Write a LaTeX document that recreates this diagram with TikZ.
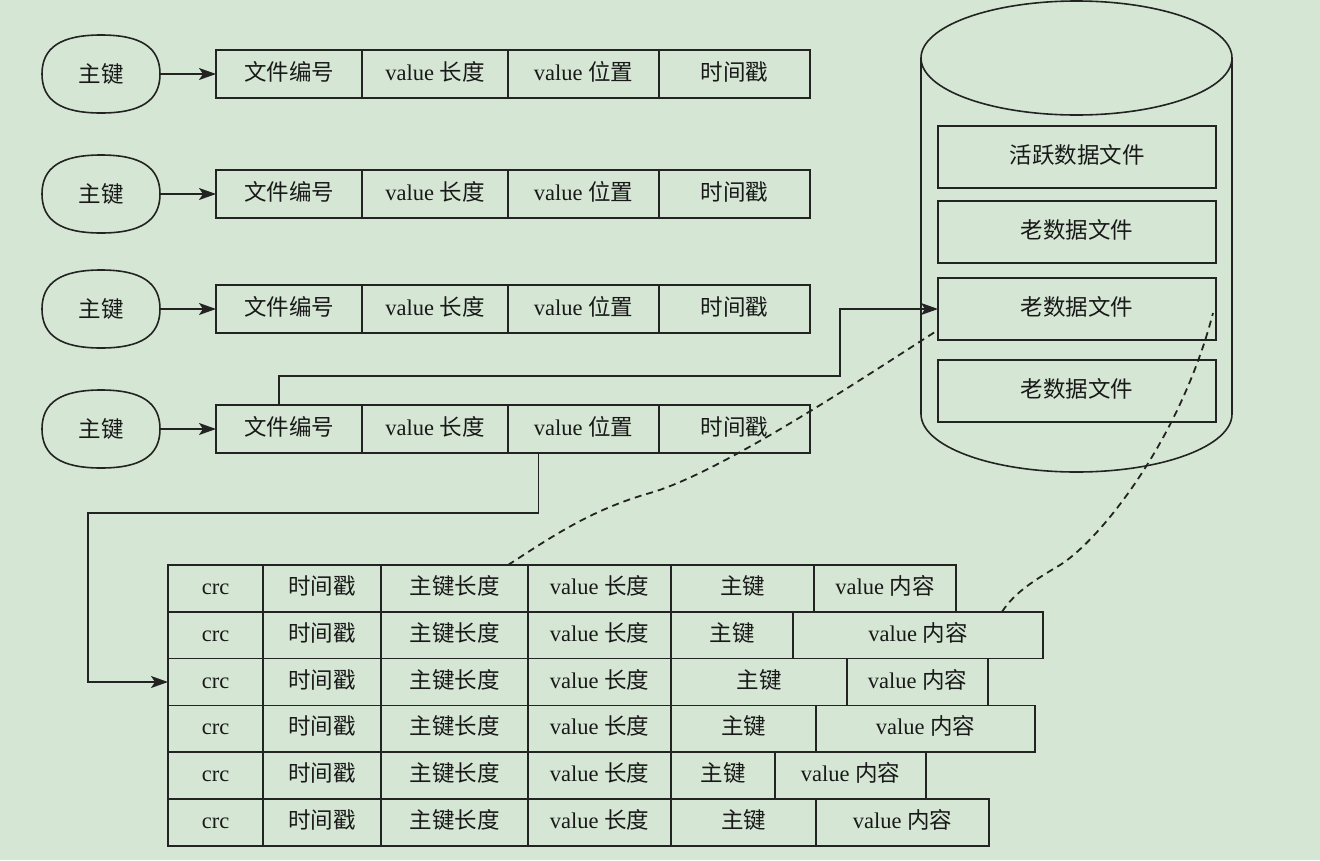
\documentclass[tikz,border=0pt]{standalone}
\usepackage{fontspec}
\setmainfont{Liberation Serif}
\newfontfamily\cjk{Noto Sans CJK SC}
\usetikzlibrary{shapes.geometric,arrows.meta,calc}
\newcommand\zh[1]{{\cjk #1}}
\definecolor{bgc}{RGB}{213,231,212}
\definecolor{linec}{RGB}{35,35,35}
\tikzset{
  cell/.style={draw=linec, line width=1.6pt, inner sep=0pt, outer sep=0pt, anchor=west,
    font=\fontsize{22.5}{26}\selectfont, text=black!90, text height=16pt, text depth=4pt},
  reccell/.style={cell, minimum height=48pt},
  tabcell/.style={cell, minimum height=46.8pt},
  dbbox/.style={cell, anchor=center, minimum width=278pt, minimum height=62pt},
  keyell/.style={rectangle, minimum width=118pt, minimum height=78pt, outer sep=0pt,
    inner sep=0pt, font=\fontsize{22.5}{26}\selectfont, text=black!90},
  keyline/.style={draw=linec, line width=1.6pt},
  arr/.style={draw=linec, line width=1.6pt, -{Stealth[length=17pt,width=12pt,inset=4pt]}},
  dsh/.style={draw=linec, line width=1.8pt, dash pattern=on 7pt off 5pt}
}
\begin{document}
\begin{tikzpicture}[x=1pt,y=-1pt]
\useasboundingbox (0,0) rectangle (1320,860);
\fill[bgc] (0,0) rectangle (1320,860);

% index records
\foreach \i/\y in {1/74,2/194,3/309,4/429}{
  \node[keyell] (k\i) at (101,\y) {\zh{主键}};
  \draw[keyline] (k\i.north)
    .. controls ($(k\i.north)!0.68!(k\i.north east)$) and ($(k\i.east)!0.68!(k\i.north east)$) .. (k\i.east)
    .. controls ($(k\i.east)!0.68!(k\i.south east)$) and ($(k\i.south)!0.68!(k\i.south east)$) .. (k\i.south)
    .. controls ($(k\i.south)!0.68!(k\i.south west)$) and ($(k\i.west)!0.68!(k\i.south west)$) .. (k\i.west)
    .. controls ($(k\i.west)!0.68!(k\i.north west)$) and ($(k\i.north)!0.68!(k\i.north west)$) .. (k\i.north) -- cycle;
  \node[reccell, minimum width=146pt] (r\i c1) at (216,\y) {\zh{文件编号}};
  \node[reccell, minimum width=146pt] (r\i c2) at (r\i c1.east) {value \zh{长度}};
  \node[reccell, minimum width=151pt] (r\i c3) at (r\i c2.east) {value \zh{位置}};
  \node[reccell, minimum width=151pt] (r\i c4) at (r\i c3.east) {\zh{时间戳}};
  \draw[arr] (k\i.east) -- (r\i c1.west);
}

% database cylinder
\draw[linec, line width=1.6pt] (921,58) -- (921,414)
  arc[start angle=180, end angle=360, x radius=155.5pt, y radius=58pt] -- (1232,58);
\draw[linec, line width=1.6pt] (1076.5,58) ellipse [x radius=155.5pt, y radius=57pt];
\node[dbbox] (d1) at (1077,157) {\zh{活跃数据文件}};
\node[dbbox] (d2) at (1077,232) {\zh{老数据文件}};
\node[dbbox] (d3) at (1077,309) {\zh{老数据文件}};
\node[dbbox] (d4) at (1077,391) {\zh{老数据文件}};

% data file table
\foreach \i/\a/\b in {1/814/956,2/793/1043,3/847/988,4/816/1035,5/775/926,6/816/989}{
  \pgfmathsetmacro\yy{565+46.8*(\i-0.5)}
  \node[tabcell, minimum width=95pt] (t\i c1) at (168,\yy) {crc};
  \node[tabcell, minimum width=118pt] (t\i c2) at (t\i c1.east) {\zh{时间戳}};
  \node[tabcell, minimum width=147pt] (t\i c3) at (t\i c2.east) {\zh{主键长度}};
  \node[tabcell, minimum width=143pt] (t\i c4) at (t\i c3.east) {value \zh{长度}};
  \node[tabcell, minimum width={(\a-671)*1pt}] (t\i c5) at (t\i c4.east) {\zh{主键}};
  \node[tabcell, minimum width={(\b-\a)*1pt}] (t\i c6) at (t\i c5.east) {value \zh{内容}};
}

% connectors
\coordinate (bend1) at (840,376);
\coordinate (bend2) at (88,513);
\draw[arr] ([xshift=-10pt]r4c1.north) |- (bend1) |- (d3.west);
\draw[arr] ([xshift=-45pt]r4c3.south) |- (bend2) |- (t3c1.west);

% dashed mapping curves
\coordinate (m1) at (650,493);
\draw[dsh] ([xshift=-20pt]t1c3.north east) .. controls +(42,-27) and +(-60,17) .. (m1)
  .. controls +(70,-20) and +(-78,50) .. ([yshift=-21pt]d3.west);
\coordinate (m2) at (1060,565);
\draw[dsh] ([xshift=-41pt]t2c6.north east) .. controls +(13,-20) and +(-25,15) .. (m2)
  .. controls +(40,-25) and +(-33,127) .. ([xshift=-3pt,yshift=-4pt]d3.east);
\end{tikzpicture}
\end{document}
